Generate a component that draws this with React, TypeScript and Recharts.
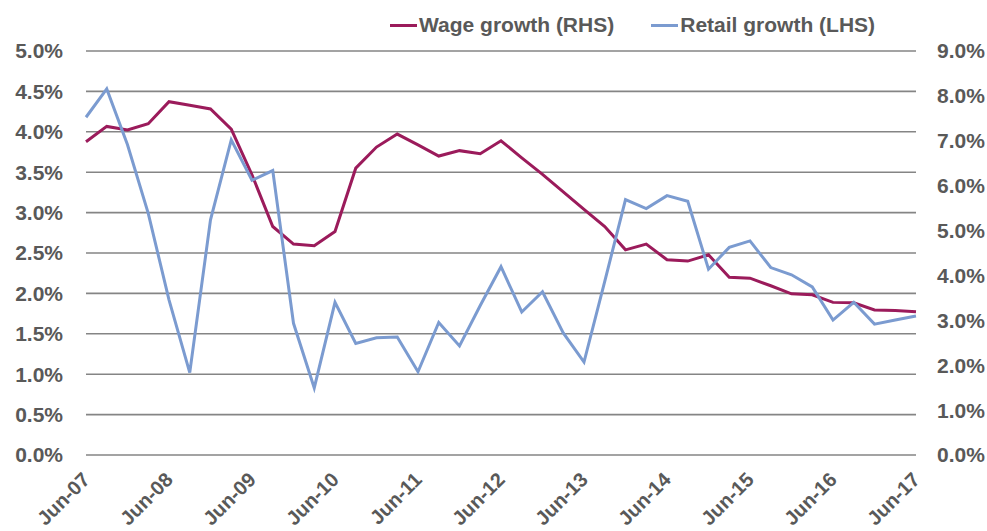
import React from "react";
import { LineChart, Line, XAxis, YAxis, CartesianGrid } from "recharts";

const quarters = [
  "Jun-07", "Sep-07", "Dec-07", "Mar-08", "Jun-08", "Sep-08", "Dec-08", "Mar-09",
  "Jun-09", "Sep-09", "Dec-09", "Mar-10", "Jun-10", "Sep-10", "Dec-10", "Mar-11",
  "Jun-11", "Sep-11", "Dec-11", "Mar-12", "Jun-12", "Sep-12", "Dec-12", "Mar-13",
  "Jun-13", "Sep-13", "Dec-13", "Mar-14", "Jun-14", "Sep-14", "Dec-14", "Mar-15",
  "Jun-15", "Sep-15", "Dec-15", "Mar-16", "Jun-16", "Sep-16", "Dec-16", "Mar-17",
  "Jun-17",
];

const wageGrowth = [
  6.98, 7.32, 7.24, 7.38, 7.87, 7.79, 7.71, 7.26,
  6.24, 5.09, 4.70, 4.66, 4.98, 6.39, 6.86, 7.15,
  6.91, 6.66, 6.78, 6.71, 7.00, 6.62, 6.25, 5.86,
  5.47, 5.09, 4.57, 4.70, 4.35, 4.32, 4.46, 3.96,
  3.94, 3.77, 3.59, 3.57, 3.40, 3.39, 3.23, 3.22,
  3.19,
];

const retailGrowth = [
  4.18, 4.53, 3.84, 2.99, 1.92, 1.02, 2.91, 3.90,
  3.40, 3.52, 1.63, 0.83, 1.89, 1.38, 1.45, 1.46,
  1.03, 1.64, 1.35, 1.85, 2.33, 1.77, 2.02, 1.51,
  1.15, 2.15, 3.16, 3.05, 3.21, 3.14, 2.30, 2.57,
  2.65, 2.32, 2.23, 2.08, 1.67, 1.89, 1.62, 1.67,
  1.72,
];

const leftTicks = [0, 0.5, 1, 1.5, 2, 2.5, 3, 3.5, 4, 4.5, 5];
const rightTicks = [0, 1, 2, 3, 4, 5, 6, 7, 8, 9];

const seriesInfo = [
  { key: "wage", name: "Wage growth (RHS)", color: "#9B1B5B" },
  { key: "retail", name: "Retail growth (LHS)", color: "#7B9BD0" },
];

const data = quarters.map((q, i) => ({
  date: q,
  wage: wageGrowth[i],
  retail: retailGrowth[i],
}));

const FONT = "'Liberation Sans', Arial, Helvetica, sans-serif";
const TEXT = "#595959";
const FS = 21;

const XTick = (props: any) => {
  const { x, payload } = props;
  return (
    <text
      x={0}
      y={0}
      transform={`translate(${x + 5},${481}) rotate(-45)`}
      textAnchor="end"
      fontFamily={FONT}
      fontWeight="bold"
      fontSize={20}
      fill={TEXT}
    >
      {payload.value}
    </text>
  );
};

const fmt = (v: number) => `${v.toFixed(1)}%`;

export default function App() {
  return (
    <div style={{ position: "absolute", left: 0, top: 0, width: 987, height: 531, background: "#fff" }}>
      <LineChart
        width={987}
        height={531}
        data={data}
        margin={{ top: 51, right: 0, bottom: 16, left: 0 }}
      >
        <CartesianGrid
          yAxisId="left"
          vertical={false}
          stroke="#858585"
          strokeWidth={1.6}
        />
        <XAxis
          dataKey="date"
          interval={3}
          tick={<XTick />}
          tickLine={false}
          axisLine={false}
          tickSize={0}
          tickMargin={0}
          height={60}
        />
        <YAxis
          yAxisId="left"
          orientation="left"
          domain={[0, 5]}
          ticks={leftTicks}
          tickFormatter={fmt}
          width={86}
          tickLine={false}
          axisLine={false}
          tickSize={0}
          tickMargin={23}
          tick={{ fontFamily: FONT, fontWeight: "bold", fontSize: FS, fill: TEXT }}
        />
        <YAxis
          yAxisId="right"
          orientation="right"
          domain={[0, 9]}
          ticks={rightTicks}
          tickFormatter={fmt}
          width={71}
          tickLine={false}
          axisLine={false}
          tickSize={0}
          tickMargin={21}
          tick={{ fontFamily: FONT, fontWeight: "bold", fontSize: FS, fill: TEXT, textAnchor: "start" }}
        />
        <Line
          yAxisId="right"
          type="linear"
          dataKey="wage"
          name={seriesInfo[0].name}
          stroke={seriesInfo[0].color}
          strokeWidth={3}
          dot={false}
          isAnimationActive={false}
        />
        <Line
          yAxisId="left"
          type="linear"
          dataKey="retail"
          name={seriesInfo[1].name}
          stroke={seriesInfo[1].color}
          strokeWidth={3}
          dot={false}
          isAnimationActive={false}
        />
      </LineChart>
      <div
        style={{
          position: "absolute",
          left: 390,
          top: 13,
          display: "flex",
          alignItems: "center",
          fontFamily: FONT,
          fontWeight: "bold",
          fontSize: FS,
          color: TEXT,
          lineHeight: "24px",
          whiteSpace: "nowrap",
        }}
      >
        {seriesInfo.map((s, i) => (
          <div key={s.key} style={{ display: "flex", alignItems: "center", marginRight: i === 0 ? 37 : 0 }}>
            <span style={{ display: "inline-block", width: 27, height: 3, background: s.color, marginRight: 2 }} />
            <span>{s.name}</span>
          </div>
        ))}
      </div>
    </div>
  );
}
